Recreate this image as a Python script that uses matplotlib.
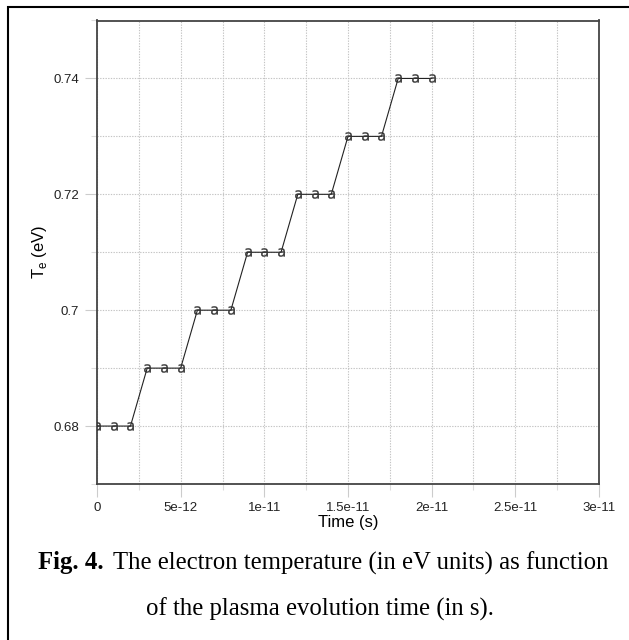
import numpy as np
import matplotlib.pyplot as plt
from matplotlib.patches import Rectangle
from matplotlib.ticker import MultipleLocator, FixedFormatter, FixedLocator

# время (с) и электронная температура (эВ)
t = np.arange(21) * 1e-12
Te = [0.68, 0.68, 0.68, 0.69, 0.69, 0.69, 0.70, 0.70, 0.70, 0.71, 0.71,
      0.71, 0.72, 0.72, 0.72, 0.73, 0.73, 0.73, 0.74, 0.74, 0.74]

xticks = [0, 5e-12, 1e-11, 1.5e-11, 2e-11, 2.5e-11, 3e-11]
xlabels = ['0', '5e-12', '1e-11', '1.5e-11', '2e-11', '2.5e-11', '3e-11']
yticks = [0.68, 0.70, 0.72, 0.74]
ylabels = ['0.68', '0.7', '0.72', '0.74']

plt.rcParams['font.family'] = ['Liberation Sans', 'DejaVu Sans']

fig = plt.figure(figsize=(6.29, 6.4), dpi=100)
ax = fig.add_axes([97 / 629, 1 - 484 / 640, 502 / 629, 463.5 / 640])

ax.plot(t, Te, color='#222222', lw=0.8, marker=r'$\mathsf{a}$',
        markersize=6, markeredgewidth=0.2, markerfacecolor='#333333',
        markeredgecolor='#333333', zorder=3)

ax.set_xlim(0, 3e-11)
ax.set_ylim(0.67, 0.75)
ax.xaxis.set_major_locator(FixedLocator(xticks))
ax.xaxis.set_major_formatter(FixedFormatter(xlabels))
ax.xaxis.set_minor_locator(MultipleLocator(2.5e-12))
ax.yaxis.set_major_locator(FixedLocator(yticks))
ax.yaxis.set_major_formatter(FixedFormatter(ylabels))
ax.yaxis.set_minor_locator(MultipleLocator(0.01))

ax.grid(True, which='both', color='#c4c4c4', linestyle=(0, (1.2, 1.2)), lw=0.8)
ax.tick_params(which='major', length=9, width=0.8, color='#cccccc',
               labelsize=9.5, pad=4, labelcolor='#222222')
ax.tick_params(which='minor', length=4, width=0.8, color='#dddddd')
for s in ax.spines.values():
    s.set_color('#444444')
    s.set_linewidth(1.3)

ax.set_xlabel('Time (s)', fontsize=12, labelpad=1)
ax.set_ylabel(r'T$_\mathregular{e}$ (eV)', fontsize=12, labelpad=3)

# подпись к рисунку
fig.text(38 / 629, 1 - 563 / 640, 'Fig. 4.', fontsize=17.8, fontweight='bold',
         family='Liberation Serif', ha='left', va='center')
fig.text(113 / 629, 1 - 563 / 640,
         'The electron temperature (in eV units) as function',
         fontsize=17.8, family='Liberation Serif', ha='left', va='center')
fig.text(320 / 629, 1 - 609 / 640, 'of the plasma evolution time (in s).',
         fontsize=17.8, family='Liberation Serif', ha='center', va='center')

# рамка вокруг рисунка
fig.patches.append(Rectangle((8 / 629, -0.05), 1.0, 1 - 7 / 640 + 0.05,
                             transform=fig.transFigure, fill=False,
                             edgecolor='black', lw=1.5))

fig.savefig('out.png', dpi=100)
